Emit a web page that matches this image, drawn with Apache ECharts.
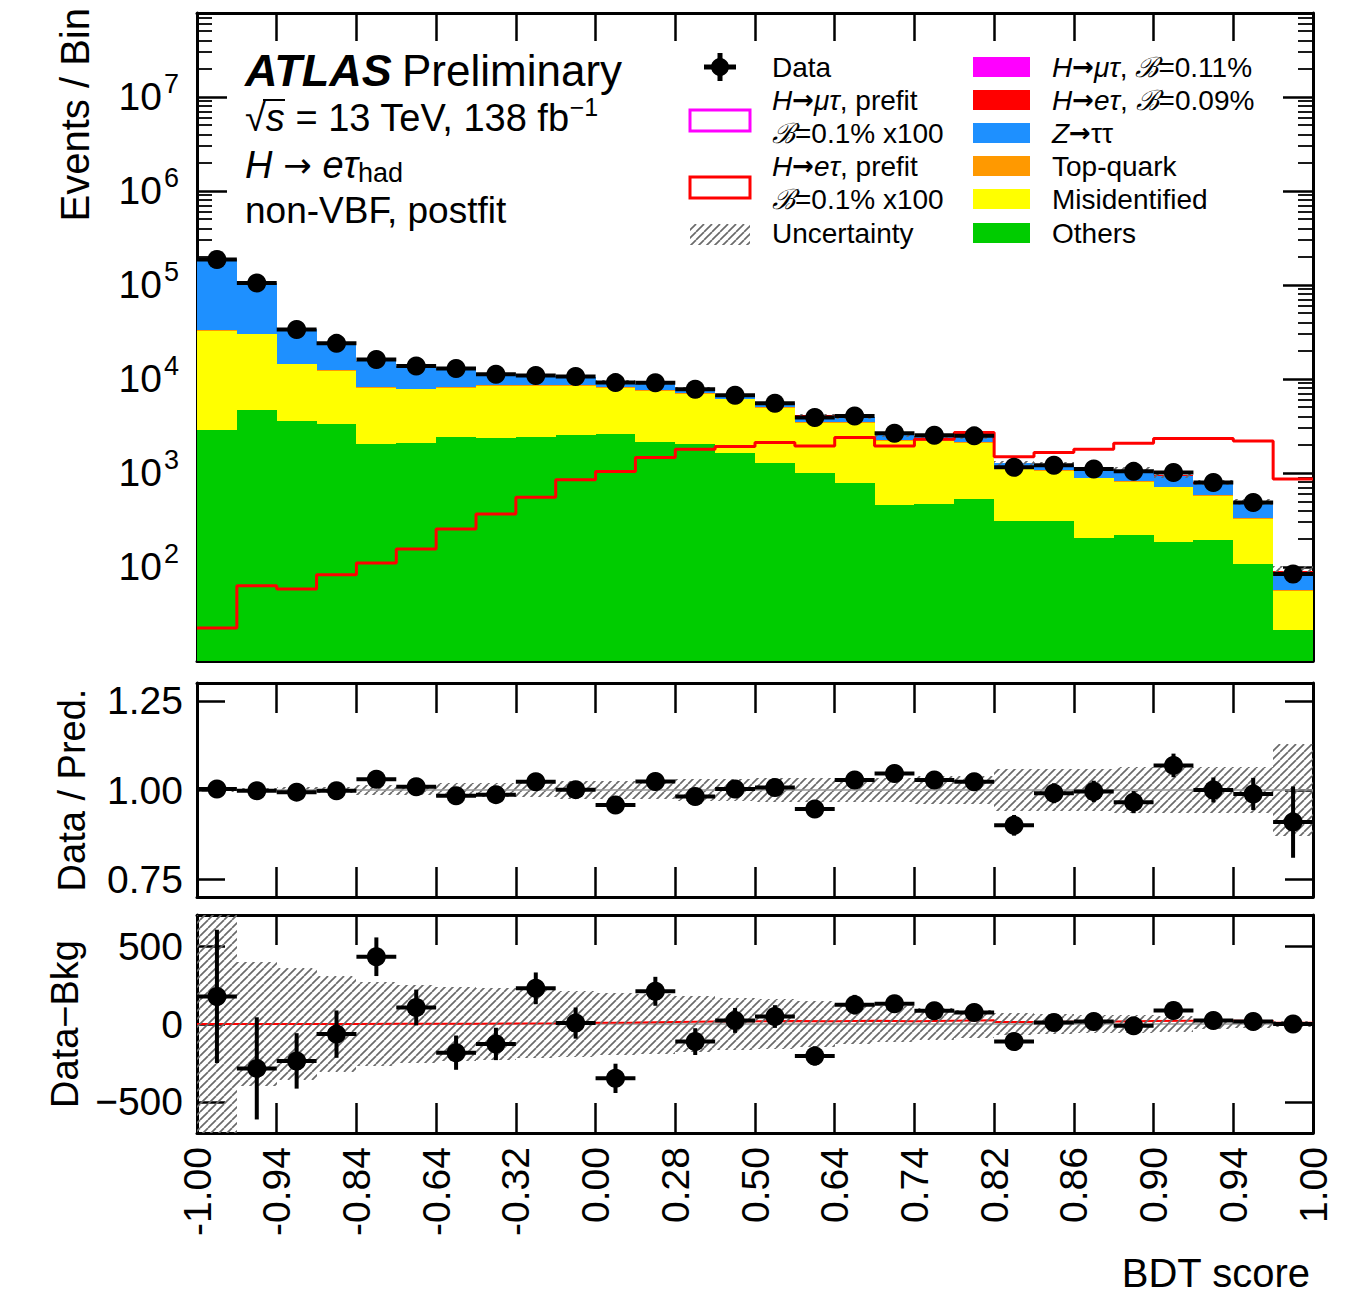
<!DOCTYPE html>
<html>
<head>
<meta charset="utf-8">
<title>BDT score – H→eτhad non-VBF postfit</title>
<script src="https://cdn.jsdelivr.net/npm/echarts@6/dist/echarts.min.js"></script>
<style>
html,body{margin:0;padding:0;background:#ffffff;}
#chart{width:1352px;height:1296px;}
</style>
</head>
<body>
<div id="chart"></div>
<script>
// ---------------- values ----------------
const xTickLabels = ['-1.00','-0.94','-0.84','-0.64','-0.32','0.00','0.28','0.50','0.64','0.74','0.82','0.86','0.90','0.94','1.00'];

const dataEvents = [186000,105000,33600,23900,16100,13700,12900,11200,10900,10600,9140,9100,7760,6700,5510,3880,4040,2650,2520,2480,1150,1210,1100,1040,1010,793,486,84];
const dataErr = [428,328,178,152,124,115,110,104,102,100,94,93,86,80,73,62,63,51,50,49,34,34,33,32,31,28,22,9];

const others = [2870,4680,3570,3300,2020,2070,2440,2380,2440,2520,2610,2140,2020,1620,1290,990,774,458,467,527,310,310,202,219,186,193,108,21.6];
const misidentified = [29380,25080,10720,8830,6063,5684,5643,6026,5966,5886,5473,5298,4962,4452,3666,2447,2663,1733,1724,1580,787,743,672,585,516,378,215,34];
const topQuark = [500,450,300,250,160,150,150,150,150,150,140,130,120,100,85,60,55,35,35,35,18,17,14,13,11,9,5,1];
const ztautau = [152600,75000,19210,11570,7386,5675,4875,2791,2089,2026,1308,1309,782,491,420,586,417,287,203,254,148,135,200,241,211,192,143,27];
const hetauPostfit = [0.2,0.6,0.5,0.7,1,1.4,2.3,3.3,5,7.6,9.3,13,16,17,19,17,21,17,21,24,13,15,16,19,21,21,20,8];
const hetauPrefitX100 = [22.4,63.3,58.4,82.9,110,155,253,365,550,845,1037,1461,1789,1910,2107,1940,2382,1940,2285,2692,1490,1650,1789,2071,2325,2325,2191,860];
const relUncertainty = [0.006,0.006,0.008,0.008,0.015,0.015,0.02,0.02,0.02,0.025,0.025,0.025,0.03,0.03,0.035,0.035,0.035,0.035,0.04,0.04,0.06,0.06,0.06,0.065,0.065,0.065,0.065,0.13];

const ratioValues = [1.003,0.998,0.994,0.998,1.030,1.009,0.984,0.987,1.023,1.001,0.958,1.024,0.982,1.003,1.007,0.947,1.028,1.046,1.028,1.023,0.901,0.991,0.996,0.966,1.069,1.000,0.989,0.910];
const ratioErr = [0.002,0.003,0.005,0.006,0.008,0.008,0.008,0.009,0.009,0.009,0.010,0.010,0.011,0.012,0.013,0.015,0.016,0.019,0.020,0.020,0.029,0.028,0.030,0.031,0.033,0.035,0.045,0.10];

const dataMinusBkg = [177,-285,-237,-65,432,106,-184,-128,229,6,-349,210,-113,23,48,-205,124,130,85,74,-113,10,16,-12,87,23,16,0];
const dmbUncertainty = [750,400,360,310,270,250,240,230,220,210,200,190,180,170,160,150,130,115,100,90,70,65,60,55,50,30,25,20];

// ---------------- chart construction ----------------
const FONT = '"Liberation Sans", Arial, Helvetica, sans-serif';
const ARROWFONT = '"DejaVu Sans", sans-serif';
const N = dataEvents.length;
const bins = dataEvents.map((_, i) => i);
const Y_MIN = 10, Y_MAX = 7.8e7;
const COLORS = {others:'#00cc00', misid:'#ffff00', top:'#ff9900', ztt:'#1e90ff', het:'#ff0000', hmt:'#ff00ff'};

function makeHatch() {
  const c = document.createElement('canvas');
  c.width = 8; c.height = 8;
  const g = c.getContext('2d');
  g.strokeStyle = '#6a6a6a'; g.lineWidth = 1.7;
  for (const k of [-1, 0, 1]) { g.beginPath(); g.moveTo(k * 8, 8); g.lineTo(k * 8 + 8, 0); g.stroke(); }
  return c;
}
const hatch = { image: makeHatch(), repeat: 'repeat' };

function binRect(fill) {
  return function (params, api) {
    const i = api.value(0);
    const a = api.coord([i, api.value(2)]);
    const b = api.coord([i + 1, api.value(1)]);
    const cs = params.coordSys;
    const x1 = Math.round(a[0]), x2 = Math.round(b[0]);
    const y1 = Math.round(a[1]), y2 = Math.round(b[1]);
    const shape = echarts.graphic.clipRectByRect(
      {x: x1, y: y1, width: x2 - x1, height: y2 - y1},
      {x: cs.x, y: cs.y, width: cs.width, height: cs.height});
    if (!shape) return null;
    return {type: 'rect', shape: shape, style: {fill: fill}};
  };
}

function pointRender(params, api) {
  const i = api.value(0), y = api.value(1), e = api.value(2);
  const l = api.coord([i, y]), r = api.coord([i + 1, y]), c = api.coord([i + 0.5, y]);
  const t = api.coord([i + 0.5, y + e]), b = api.coord([i + 0.5, y - e]);
  return {type: 'group', children: [
    {type: 'line', shape: {x1: l[0], y1: c[1], x2: r[0], y2: c[1]}, style: {stroke: '#000', lineWidth: 4}},
    {type: 'line', shape: {x1: c[0], y1: t[1], x2: c[0], y2: b[1]}, style: {stroke: '#000', lineWidth: 4}},
    {type: 'circle', shape: {cx: c[0], cy: c[1], r: 9.5}, style: {fill: '#000'}}
  ]};
}

function stepPoints(vals) {
  const pts = [];
  vals.forEach((v, i) => { pts.push([i, v]); pts.push([i + 1, v]); });
  return pts;
}

// stacked backgrounds + signal
const layers = [
  {name: 'Others', values: others, color: COLORS.others},
  {name: 'Misidentified', values: misidentified, color: COLORS.misid},
  {name: 'Top-quark', values: topQuark, color: COLORS.top},
  {name: 'Z→ττ', values: ztautau, color: COLORS.ztt},
  {name: 'H→eτ, ℬ=0.09%', values: hetauPostfit, color: COLORS.het}
];
const series = [];
let cum = bins.map(() => 0);
layers.forEach(L => {
  const lows = cum.slice();
  cum = cum.map((c, i) => c + L.values[i]);
  series.push({type: 'custom', name: L.name, xAxisIndex: 0, yAxisIndex: 0, silent: true, z: 2,
    data: bins.map(i => [i, Math.max(lows[i], Y_MIN), cum[i]]), renderItem: binRect(L.color)});
});
const totalPred = cum;

series.push({type: 'custom', name: 'Uncertainty', xAxisIndex: 0, yAxisIndex: 0, silent: true, z: 3,
  data: bins.map(i => [i, totalPred[i] * (1 - relUncertainty[i]), totalPred[i] * (1 + relUncertainty[i])]),
  renderItem: binRect(hatch)});

series.push({type: 'line', name: 'H→eτ prefit ×100', xAxisIndex: 0, yAxisIndex: 0, silent: true, z: 4,
  data: stepPoints(hetauPrefitX100), symbol: 'none', lineStyle: {color: '#ff0000', width: 3}});

series.push({type: 'custom', name: 'Data', xAxisIndex: 0, yAxisIndex: 0, silent: true, z: 6,
  data: bins.map(i => [i, dataEvents[i], dataErr[i]]), renderItem: pointRender});

// ratio panel
series.push({type: 'custom', name: 'ratio-unc', xAxisIndex: 2, yAxisIndex: 2, silent: true, z: 2,
  data: bins.map(i => [i, 1 - relUncertainty[i], 1 + relUncertainty[i]]), renderItem: binRect(hatch)});
series.push({type: 'line', name: 'ratio-one', xAxisIndex: 2, yAxisIndex: 2, silent: true, z: 3,
  data: [[0, 1], [N, 1]], symbol: 'none', lineStyle: {color: '#9a9a9a', width: 1.5}});
series.push({type: 'custom', name: 'ratio', xAxisIndex: 2, yAxisIndex: 2, silent: true, z: 6,
  data: bins.map(i => [i, ratioValues[i], ratioErr[i]]), renderItem: pointRender});

// data - bkg panel
series.push({type: 'line', name: 'dmb-zero', xAxisIndex: 4, yAxisIndex: 4, silent: true, z: 2,
  data: [[0, 0], [N, 0]], symbol: 'none', lineStyle: {color: '#9a9a9a', width: 1.5}});
series.push({type: 'line', name: 'dmb-signal', xAxisIndex: 4, yAxisIndex: 4, silent: true, z: 3,
  data: stepPoints(hetauPostfit), symbol: 'none', lineStyle: {color: '#ff0000', width: 2}});
series.push({type: 'custom', name: 'dmb-unc', xAxisIndex: 4, yAxisIndex: 4, silent: true, z: 4,
  data: bins.map(i => [i, -dmbUncertainty[i], dmbUncertainty[i]]), renderItem: binRect(hatch)});
series.push({type: 'custom', name: 'dmb', xAxisIndex: 4, yAxisIndex: 4, silent: true, z: 6,
  data: bins.map(i => [i, dataMinusBkg[i], dataErr[i]]), renderItem: pointRender});

// axes
const axisLine = {show: true, onZero: false, lineStyle: {color: '#000', width: 3}};
function xPair(grid, tickLen, labels) {
  const common = {type: 'value', gridIndex: grid, min: 0, max: N, interval: 2, splitLine: {show: false},
    axisLine: axisLine, axisTick: {show: true, inside: true, length: tickLen, lineStyle: {color: '#000', width: 2.5}}};
  const bottom = Object.assign({}, common, {position: 'bottom', axisLabel: labels ? {
    show: true, rotate: 90, margin: 14, fontSize: 39, fontFamily: FONT, color: '#000',
    formatter: v => xTickLabels[Math.round(v / 2)]
  } : {show: false}});
  const top = Object.assign({}, common, {position: 'top', axisLabel: {show: false}});
  return [bottom, top];
}
const xAxes = [].concat(xPair(0, 28, false), xPair(1, 30, false), xPair(2, 30, true));

const mainTick = {show: true, inside: true, length: 30, lineStyle: {color: '#000', width: 2.5}};
const mainMinor = {show: true, splitNumber: 9, length: 15, lineStyle: {color: '#000', width: 1.8}};
function mainY(pos, labels) {
  return {type: 'log', logBase: 10, gridIndex: 0, position: pos, min: Y_MIN, max: Y_MAX,
    splitLine: {show: false}, axisLine: axisLine, axisTick: mainTick, minorTick: mainMinor,
    axisLabel: labels ? {
      show: true, margin: 18, color: '#000',
      formatter: v => {
        const lg = Math.log10(v), e = Math.round(lg);
        if (Math.abs(lg - e) > 1e-6 || e < 2 || e > 7) return '';
        return '{b|10}{e|' + e + '}';
      },
      rich: {
        b: {fontSize: 39, fontFamily: FONT, color: '#000', lineHeight: 44},
        e: {fontSize: 27, fontFamily: FONT, color: '#000', lineHeight: 44, padding: [0, 0, 26, 2]}
      }
    } : {show: false}};
}
function panelY(grid, pos, min, max, ticks, fmt, name) {
  const ax = {type: 'value', gridIndex: grid, position: pos, min: min, max: max, splitLine: {show: false},
    axisLine: axisLine,
    axisTick: {show: true, inside: true, length: 28, customValues: ticks, lineStyle: {color: '#000', width: 2.5}},
    axisLabel: fmt ? {show: true, customValues: ticks, margin: 14, fontSize: 39, fontFamily: FONT, color: '#000', formatter: fmt} : {show: false}};
  if (name) {
    ax.name = name; ax.nameLocation = 'middle'; ax.nameGap = 106; ax.nameRotate = 90;
    ax.nameTextStyle = {fontSize: 38, fontFamily: FONT, color: '#000'};
  }
  return ax;
}
const yAxes = [
  mainY('left', true), mainY('right', false),
  panelY(1, 'left', 0.7, 1.3, [0.75, 1, 1.25], v => v.toFixed(2), 'Data / Pred.'),
  panelY(1, 'right', 0.7, 1.3, [0.75, 1, 1.25], null, null),
  panelY(2, 'left', -700, 700, [-500, 0, 500], v => (v < 0 ? '\u2212' + (-v) : String(v)), 'Data\u2212Bkg'),
  panelY(2, 'right', -700, 700, [-500, 0, 500], null, null)
];

// text & legend
const T = (x, y, text, size, extra) => Object.assign({type: 'text', x: x, y: y, silent: true, z: 100,
  style: Object.assign({text: text, fontSize: size, fontFamily: FONT, fill: '#000', align: 'left', verticalAlign: 'middle'}, extra || {})});
const richLegend = {
  i: {fontStyle: 'italic', fontSize: 28, fontFamily: FONT, fill: '#000'},
  s: {fontStyle: 'italic', fontSize: 28, fontFamily: '"DejaVu Serif", serif', fill: '#000'},
  a: {fontSize: 26, fontWeight: 'bold', fontFamily: ARROWFONT, fill: '#000'}
};
const LX = 772, LX2 = 1052, rows = [67, 100, 133, 166, 199, 233];
const graphic = [
  // axis titles
  Object.assign(T(75, 8, 'Events / Bin', 40, {align: 'right'}), {rotation: Math.PI / 2}),
  T(1310, 1273, 'BDT score', 40, {align: 'right'}),
  // ATLAS label
  T(245, 70, 'ATLAS', 45, {fontWeight: 'bold', fontStyle: 'italic'}),
  T(402, 70, 'Preliminary', 44),
  T(245, 118, '√{i|s} = 13 TeV, 138 fb{sup|\u22121}', 38, {rich: {
    i: {fontStyle: 'italic', fontSize: 38, fontFamily: FONT},
    sup: {fontSize: 25, fontFamily: FONT, padding: [0, 0, 22, 0]}}}),
  {type: 'line', silent: true, z: 100, shape: {x1: 263, y1: 100, x2: 285, y2: 100}, style: {stroke: '#000', lineWidth: 2}},
  T(245, 165, '{i|H}{a| → }{i|eτ}{sub|had}', 38, {rich: {
    i: {fontStyle: 'italic', fontSize: 38, fontFamily: FONT},
    a: {fontSize: 34, fontFamily: ARROWFONT},
    sub: {fontSize: 27, fontFamily: FONT, padding: [16, 0, 0, 0]}}}),
  T(245, 210, 'non-VBF, postfit', 37),
  // legend column 1
  {type: 'group', silent: true, z: 100, children: [
    {type: 'line', shape: {x1: 704, y1: rows[0], x2: 736, y2: rows[0]}, style: {stroke: '#000', lineWidth: 5}},
    {type: 'line', shape: {x1: 720, y1: rows[0] - 14, x2: 720, y2: rows[0] + 14}, style: {stroke: '#000', lineWidth: 5}},
    {type: 'circle', shape: {cx: 720, cy: rows[0], r: 9}, style: {fill: '#000'}}
  ]},
  T(LX, rows[0], 'Data', 28),
  {type: 'rect', silent: true, z: 100, shape: {x: 690, y: 110, width: 60, height: 21}, style: {fill: 'none', stroke: COLORS.hmt, lineWidth: 3}},
  T(LX, rows[1], '{i|H}{a|→}{i|μτ}, prefit', 28, {rich: richLegend}),
  T(LX, rows[2], '{s|ℬ}=0.1% x100', 28, {rich: richLegend}),
  {type: 'rect', silent: true, z: 100, shape: {x: 690, y: 177, width: 60, height: 21}, style: {fill: 'none', stroke: COLORS.het, lineWidth: 3}},
  T(LX, rows[3], '{i|H}{a|→}{i|eτ}, prefit', 28, {rich: richLegend}),
  T(LX, rows[4], '{s|ℬ}=0.1% x100', 28, {rich: richLegend}),
  {type: 'rect', silent: true, z: 100, shape: {x: 690, y: 224, width: 60, height: 21}, style: {fill: hatch}},
  T(LX, rows[5], 'Uncertainty', 28),
  // legend column 2
  ...[COLORS.hmt, COLORS.het, COLORS.ztt, COLORS.top, COLORS.misid, COLORS.others].map((c, k) => (
    {type: 'rect', silent: true, z: 100, shape: {x: 973, y: rows[k] - 10, width: 57, height: 20}, style: {fill: c}})),
  T(LX2, rows[0], '{i|H}{a|→}{i|μτ}, {s|ℬ}=0.11%', 28, {rich: richLegend}),
  T(LX2, rows[1], '{i|H}{a|→}{i|eτ}, {s|ℬ}=0.09%', 28, {rich: richLegend}),
  T(LX2, rows[2], '{i|Z}{a|→}ττ', 28, {rich: richLegend}),
  T(LX2, rows[3], 'Top-quark', 28),
  T(LX2, rows[4], 'Misidentified', 28),
  T(LX2, rows[5], 'Others', 28)
];

const option = {
  animation: false,
  backgroundColor: '#ffffff',
  grid: [
    {left: 197, top: 13, width: 1116, height: 648},
    {left: 197, top: 683, width: 1116, height: 214},
    {left: 197, top: 915, width: 1116, height: 218}
  ],
  xAxis: xAxes,
  yAxis: yAxes,
  series: series,
  graphic: graphic
};

const chart = echarts.init(document.getElementById('chart'), null, {renderer: 'svg'});
chart.setOption(option);
</script>
</body>
</html>
